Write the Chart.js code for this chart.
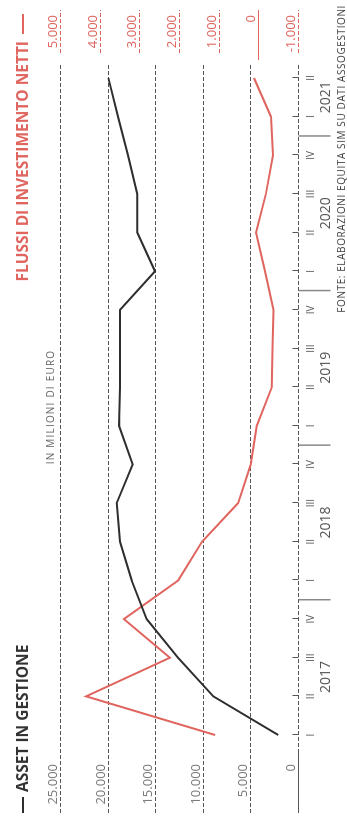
<!DOCTYPE html>
<html>
<head>
<meta charset="utf-8">
<script src="https://cdn.jsdelivr.net/npm/chart.js@4.4.0/dist/chart.umd.min.js"></script>
<style>
  html, body { margin: 0; padding: 0; background: #fff; overflow: hidden; }
  /* the chart is drawn landscape and turned a quarter to the left */
  #wrap { position: absolute; left: 0; top: 821px; width: 821px; height: 347px;
          transform-origin: 0 0; transform: rotate(-90deg); }
</style>
</head>
<body>
<div id="wrap"><canvas id="flowChart"></canvas></div>
<script>
const quarters = ['I', 'II', 'III', 'IV', 'I', 'II', 'III', 'IV', 'I', 'II', 'III', 'IV', 'I', 'II', 'III', 'IV', 'I', 'II'];
const years = ['2017', '2018', '2019', '2020', '2021'];
const yearFirstQuarter = [0, 4, 8, 12, 16];
const assetValues = [2070, 8900, 12600, 15900, 17470, 18700, 19050, 17370, 18800, 18700, 18700, 18700, 15020, 16880, 16880, 17850, 18900, 19920];
const flowValues = [1090, 4340, 2230, 3390, 2020, 1420, 510, 190, 40, -340, -360, -380, -170, 60, -190, -370, -320, 110];
const assetTicks = [0, 5000, 10000, 15000, 20000, 25000];
const flowTicks = [-1000, 0, 1000, 2000, 3000, 4000, 5000];

const RED = '#e0655f';
const DARK = '#2e2e2e';
const GRID = '#555';
const FONT = '"Open Sans", sans-serif';

const fmt = v => (v < 0 ? '-' : '') + String(Math.abs(v)).replace(/\B(?=(\d{3})+(?!\d))/g, '.');

function seg(ctx, x1, y1, x2, y2) {
    ctx.beginPath();
    ctx.moveTo(x1, y1);
    ctx.lineTo(x2, y2);
    ctx.stroke();
}

// grid, axis and all the labels, placed with the chart's own scales
const decor = {
    id: 'decor',
    beforeDatasetsDraw(chart) {
        const { ctx, chartArea, scales: { x, yAsset, yFlow } } = chart;
        const gridLeft = chartArea.left - 78;
        const gridRight = chartArea.right + 13;
        ctx.save();
        ctx.lineWidth = 1;

        assetTicks.forEach(v => {
            const y = Math.round(yAsset.getPixelForValue(v)) + 0.5;
            ctx.strokeStyle = GRID;
            if (v === 0) {
                ctx.setLineDash([]);
                seg(ctx, gridLeft, y, gridLeft + 60, y);
                ctx.setLineDash([4, 2]);
                seg(ctx, gridLeft + 60, y, gridRight, y);
            } else {
                ctx.setLineDash([4, 2]);
                seg(ctx, gridLeft, y, gridRight, y);
            }
        });

        flowTicks.forEach(v => {
            const y = Math.round(yFlow.getPixelForValue(v)) + 0.5;
            ctx.strokeStyle = RED;
            ctx.setLineDash(v === 0 ? [] : [4, 2]);
            seg(ctx, v === 0 ? gridRight + 5 : gridRight + 12, y, gridRight + 55, y);
        });

        // category ticks on the axis
        const y0 = Math.round(yAsset.getPixelForValue(0)) + 0.5;
        ctx.setLineDash([]);
        ctx.strokeStyle = GRID;
        quarters.forEach((q, i) => {
            const px = Math.round(x.getPixelForValue(i)) + 0.5;
            seg(ctx, px, y0 - 6, px, y0);
        });

        // year separators
        ctx.strokeStyle = '#888';
        ctx.lineWidth = 1.5;
        yearFirstQuarter.slice(1).forEach(s => {
            const px = (x.getPixelForValue(s - 1) + x.getPixelForValue(s)) / 2;
            seg(ctx, px, y0, px, y0 + 32);
        });
        ctx.restore();
    },
    afterDraw(chart) {
        const { ctx, chartArea, scales: { x, yAsset, yFlow } } = chart;
        const y0 = yAsset.getPixelForValue(0);
        ctx.save();

        ctx.font = '13px ' + FONT;
        ctx.textBaseline = 'alphabetic';
        ctx.textAlign = 'right';
        ctx.fillStyle = '#7a7a7a';
        assetTicks.forEach(v => ctx.fillText(fmt(v), chartArea.left - 29, yAsset.getPixelForValue(v) - 3));
        ctx.fillStyle = RED;
        flowTicks.forEach(v => ctx.fillText(fmt(v), chartArea.right + 63, yFlow.getPixelForValue(v) - 3));

        ctx.textAlign = 'center';
        ctx.textBaseline = 'middle';
        ctx.fillStyle = '#555';
        ctx.font = '10px ' + FONT;
        quarters.forEach((q, i) => ctx.fillText(q, x.getPixelForValue(i), y0 + 13));

        ctx.font = '14px ' + FONT;
        years.forEach((yr, k) => {
            const first = yearFirstQuarter[k];
            const last = k + 1 < years.length ? yearFirstQuarter[k + 1] - 1 : quarters.length - 1;
            const cx = (x.getPixelForValue(first) + x.getPixelForValue(last)) / 2;
            ctx.fillText(yr, cx, y0 + 28);
        });

        // legend
        ctx.lineWidth = 2;
        ctx.strokeStyle = DARK;
        seg(ctx, 8, 23, 24, 23);
        ctx.strokeStyle = RED;
        seg(ctx, 787, 23, 807, 23);
        ctx.font = 'bold 15.5px ' + FONT;
        ctx.textAlign = 'left';
        ctx.fillStyle = '#333';
        ctx.fillText('ASSET IN GESTIONE', 29, 24);
        ctx.textAlign = 'right';
        ctx.fillStyle = RED;
        ctx.fillText('FLUSSI DI INVESTIMENTO NETTI', 780, 24);

        ctx.fillStyle = '#666';
        ctx.textAlign = 'center';
        ctx.font = '10px ' + FONT;
        ctx.letterSpacing = '1.2px';
        ctx.fillText('IN MILIONI DI EURO', 414, 51);

        ctx.fillStyle = '#444';
        ctx.textAlign = 'right';
        ctx.textBaseline = 'alphabetic';
        ctx.letterSpacing = '0.6px';
        ctx.fillText('FONTE: ELABORAZIONI EQUITA SIM SU DATI ASSOGESTIONI', 816, 345);
        ctx.restore();
    }
};

new Chart(document.getElementById('flowChart'), {
    type: 'line',
    data: {
        labels: quarters,
        datasets: [
            {
                label: 'Asset in gestione',
                data: assetValues,
                yAxisID: 'yAsset',
                borderColor: DARK,
                borderWidth: 2,
                pointRadius: 0,
                tension: 0
            },
            {
                label: 'Flussi di investimento netti',
                data: flowValues,
                yAxisID: 'yFlow',
                borderColor: RED,
                borderWidth: 2,
                pointRadius: 0,
                tension: 0
            }
        ]
    },
    options: {
        responsive: true,
        maintainAspectRatio: false,
        animation: false,
        layout: { padding: { left: 86, right: 78, top: 60, bottom: 49 } },
        scales: {
            x: { display: false, offset: false },
            yAsset: { display: false, min: 0, max: 25000 },
            yFlow: { display: false, min: -1000, max: 5000 }
        },
        plugins: {
            legend: { display: false },
            tooltip: { enabled: false }
        }
    },
    plugins: [decor]
});
</script>
</body>
</html>
